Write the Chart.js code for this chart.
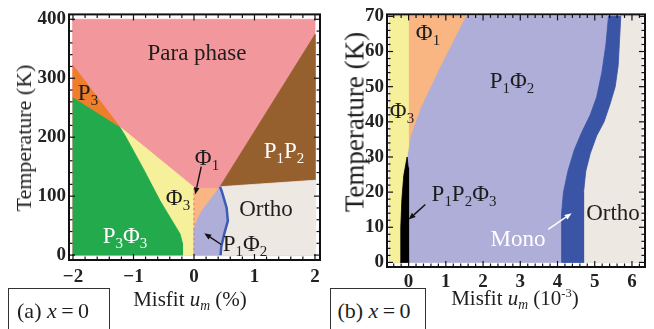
<!DOCTYPE html>
<html>
<head>
<meta charset="utf-8">
<script src="https://cdn.jsdelivr.net/npm/chart.js@4.4.0/dist/chart.umd.min.js"></script>
<style>
  html, body { margin: 0; padding: 0; background: #fff; }
  #wrap { position: relative; width: 654px; height: 329px; overflow: hidden;
          font-family: "Liberation Serif", "Times New Roman", serif; color: #1e1e1e; }
  canvas { position: absolute; top: 0; }
  .lb { position: absolute; transform: translate(-50%, -50%); white-space: nowrap; line-height: 1; }
  .lb sub { font-size: 0.65em; vertical-align: -0.35em; line-height: 0; }
  .lb sup { font-size: 0.6em; vertical-align: 0.6em; line-height: 0; }
  .rot { transform: translate(-50%, -50%) rotate(-90deg); }
  .w { color: #fff; }
  .box { position: absolute; border: 1.5px solid #333; background: #fff; }
</style>
</head>
<body>
<div id="wrap">
  <canvas id="chartA" width="330" height="290" style="left:0"></canvas>
  <canvas id="chartB" width="324" height="290" style="left:330px"></canvas>

  <!-- panel (a) labels -->
  <div class="lb" style="left:197px;top:52px;font-size:23px">Para phase</div>
  <div class="lb" style="left:88px;top:92px;font-size:23px">P<sub>3</sub></div>
  <div class="lb w" style="left:284px;top:150px;font-size:23px">P<sub>1</sub>P<sub>2</sub></div>
  <div class="lb" style="left:207px;top:157px;font-size:23px">Φ<sub>1</sub></div>
  <div class="lb" style="left:178px;top:197px;font-size:23px">Φ<sub>3</sub></div>
  <div class="lb" style="left:266px;top:208px;font-size:23px">Ortho</div>
  <div class="lb w" style="left:125px;top:235px;font-size:23px">P<sub>3</sub>Φ<sub>3</sub></div>
  <div class="lb" style="left:245px;top:243px;font-size:23px">P<sub>1</sub>Φ<sub>2</sub></div>
  <div class="lb rot" style="left:24px;top:138px;font-size:22px">Temperature (K)</div>
  <div class="lb" style="left:190px;top:299px;font-size:21px">Misfit <i>u<sub>m</sub></i> (%)</div>
  <div class="box" style="left:8px;top:288px;width:100px;height:60px"></div>
  <div class="lb" style="left:53px;top:311px;font-size:22px">(a) <i>x</i>&#8201;=&#8201;0</div>

  <!-- panel (b) labels -->
  <div class="lb" style="left:428px;top:32px;font-size:23px">Φ<sub>1</sub></div>
  <div class="lb" style="left:512px;top:80px;font-size:23px">P<sub>1</sub>Φ<sub>2</sub></div>
  <div class="lb" style="left:402px;top:110px;font-size:23px">Φ<sub>3</sub></div>
  <div class="lb" style="left:464px;top:193px;font-size:23px">P<sub>1</sub>P<sub>2</sub>Φ<sub>3</sub></div>
  <div class="lb" style="left:613px;top:212px;font-size:23px">Ortho</div>
  <div class="lb w" style="left:518px;top:238px;font-size:23px">Mono</div>
  <div class="lb rot" style="left:355px;top:122px;font-size:27px">Temperature (K)</div>
  <div class="lb" style="left:515px;top:298px;font-size:21px">Misfit <i>u<sub>m</sub></i> (10<sup>-3</sup>)</div>
  <div class="box" style="left:330px;top:288px;width:94px;height:60px"></div>
  <div class="lb" style="left:374px;top:311px;font-size:22px">(b) <i>x</i>&#8201;=&#8201;0</div>
</div>

<script>
// ---- panel (a): misfit (%) vs T (K)
const xTicksA = [-2, -1, 0, 1, 2];
const xTickLabelsA = ['\u22122', '\u22121', '0', '1', '2'];
const yTicksA = [0, 100, 200, 300, 400];
const yTickLabelsA = ['0', '100', '200', '300', '400'];

const paraA = [[-2, 0], [2, 0], [2, 400], [-2, 400]];
const p1p2A = [[0.43, 116], [2, 374], [2, 127]];
const orthoA = [[0.43, 116], [2, 127], [2, 0], [0.3, 0]];
const phi3A = [[-1.23, 218], [0, 115], [0, 0], [-1.2, 0]];
const phi1A = [[0, 113], [0.43, 113], [0.43, 116], [0.45, 0], [0, 0]];
const phi1EdgeA = [[0, 45], [0.05, 58], [0.1, 70], [0.2, 85], [0.3, 98], [0.43, 116]];
const monoA = [[0.43, 116], [0.46, 108], [0.54, 80], [0.56, 58], [0.5, 36], [0.45, 14], [0.44, 0]];
const p3phi3A = [[-2, 268], [-1.23, 218], [-1.14, 203], [-0.84, 147], [-0.56, 92], [-0.23, 36], [-0.19, 20], [-0.19, 0], [-2, 0]];
const p3A = [[-2, 322], [-1.23, 218], [-2, 268]];
const zeroLineA = [[0, 0], [0, 115]];
const arrowsA = [
  { from: [0.12, 150], to: [0.02, 103], color: '#111' },
  { from: [0.45, 18], to: [0.17, 37], color: '#111' }
];

// ---- panel (b): misfit (1e-3) vs T (K)
const xTicksB = [0, 1, 2, 3, 4, 5, 6];
const xTickLabelsB = ['0', '1', '2', '3', '4', '5', '6'];
const yTicksB = [0, 10, 20, 30, 40, 50, 60, 70];
const yTickLabelsB = ['0', '10', '20', '30', '40', '50', '60', '70'];

const p1phi2B = [[-0.5, 0], [6.26, 0], [6.26, 70], [-0.5, 70]];
const monoLeftB = [[4.11, 0], [4.11, 14], [4.16, 20], [4.28, 26], [4.45, 32], [4.65, 37], [4.88, 42], [5.05, 47], [5.19, 54], [5.30, 62], [5.37, 70]];
const monoRightB = [[4.70, 0], [4.70, 20], [4.76, 26], [4.88, 31], [5.05, 36], [5.25, 40], [5.41, 45], [5.55, 50], [5.63, 56], [5.70, 70]];
const phi1B = [[0, 33], [0.05, 36], [0.32, 44], [0.86, 56], [1.53, 70], [0, 70]];
const phi3B = [[-0.5, 0], [-0.22, 0], [-0.21, 10], [-0.18, 18], [-0.13, 24.7], [-0.04, 30], [0, 33], [0, 70], [-0.5, 70]];
const p1p2phi3B = [[-0.22, 0], [-0.21, 10], [-0.18, 18], [-0.13, 24.7], [-0.04, 30], [-0.01, 27], [0, 0]];
const arrowsB = [
  { from: [0.45, 16.5], to: [0.0, 12.2], color: '#111' },
  { from: [3.75, 9.4], to: [4.38, 14.0], color: '#fff' }
];

const toXY = pts => pts.map(([x, y]) => ({ x, y }));

function region(label, pts, color) {
  return {
    label, data: toXY(pts.concat([pts[0]])),
    backgroundColor: color, borderColor: color, borderWidth: 0.8,
    pointRadius: 0, fill: 'shape', tension: 0
  };
}

function curve(label, pts, color, width, dash) {
  return {
    label, data: toXY(pts), borderColor: color, borderWidth: width,
    borderDash: dash || [], pointRadius: 0, fill: false, tension: 0
  };
}

// inward ticks on all four sides + black frame
const frameTicks = {
  id: 'frameTicks',
  afterDraw(chart, args, o) {
    const { ctx, chartArea: a, scales: { x, y } } = chart;
    ctx.save();
    ctx.strokeStyle = '#111';
    ctx.lineWidth = 1.2;
    const isMajor = (v, step) => Math.abs(v / step - Math.round(v / step)) < 1e-6;
    const seg = (x1, y1, x2, y2) => { ctx.beginPath(); ctx.moveTo(x1, y1); ctx.lineTo(x2, y2); ctx.stroke(); };
    const nx = Math.round((o.xTo - o.xFrom) / o.xMinor);
    for (let i = 0; i <= nx; i++) {
      const v = o.xFrom + i * o.xMinor;
      const px = x.getPixelForValue(v);
      const L = isMajor(v, o.xMajor) ? 6 : 3.5;
      seg(px, a.bottom, px, a.bottom - L);
      seg(px, a.top, px, a.top + L);
    }
    const ny = Math.round((o.yTo - o.yFrom) / o.yMinor);
    for (let i = 0; i <= ny; i++) {
      const v = o.yFrom + i * o.yMinor;
      const py = y.getPixelForValue(v);
      const L = isMajor(v, o.yMajor) ? 6 : 3.5;
      seg(a.left, py, a.left + L, py);
      seg(a.right, py, a.right - L, py);
    }
    ctx.lineWidth = 2;
    ctx.strokeRect(a.left, a.top, a.right - a.left, a.bottom - a.top);
    ctx.restore();
  }
};

const arrowPlugin = {
  id: 'arrows',
  afterDatasetsDraw(chart, args, o) {
    const { ctx, scales: { x, y } } = chart;
    ctx.save();
    for (const ar of o.list) {
      const x1 = x.getPixelForValue(ar.from[0]), y1 = y.getPixelForValue(ar.from[1]);
      const x2 = x.getPixelForValue(ar.to[0]), y2 = y.getPixelForValue(ar.to[1]);
      const ang = Math.atan2(y2 - y1, x2 - x1);
      const h = 7, w = 2.8;
      ctx.strokeStyle = ar.color; ctx.fillStyle = ar.color; ctx.lineWidth = 1.4;
      ctx.beginPath();
      ctx.moveTo(x1, y1);
      ctx.lineTo(x2 - h * Math.cos(ang), y2 - h * Math.sin(ang));
      ctx.stroke();
      ctx.beginPath();
      ctx.moveTo(x2, y2);
      ctx.lineTo(x2 - h * Math.cos(ang) + w * Math.sin(ang), y2 - h * Math.sin(ang) - w * Math.cos(ang));
      ctx.lineTo(x2 - h * Math.cos(ang) - w * Math.sin(ang), y2 - h * Math.sin(ang) + w * Math.cos(ang));
      ctx.closePath();
      ctx.fill();
    }
    ctx.restore();
  }
};

const tickFont = { family: '"Liberation Serif", serif', size: 19, weight: 'bold' };

function makeChart(id, cfg) {
  const layers = cfg.layers; // listed bottom to top
  layers.forEach((d, i) => { d.order = layers.length - i; });
  return new Chart(document.getElementById(id), {
    type: 'line',
    data: { datasets: layers },
    options: {
      responsive: false,
      animation: false,
      events: [],
      layout: { padding: cfg.pad },
      plugins: {
        legend: { display: false },
        tooltip: { enabled: false },
        frameTicks: cfg.frame,
        arrows: { list: cfg.arrows }
      },
      scales: {
        x: {
          type: 'linear', min: cfg.xMin, max: cfg.xMax,
          grid: { display: false, drawTicks: false }, border: { display: false },
          afterBuildTicks: s => { s.ticks = cfg.xTicks.map(v => ({ value: v })); },
          afterFit: s => { s.height = cfg.xH; },
          ticks: { callback: (v, i) => cfg.xLabels[i], font: tickFont, color: '#222',
                   padding: cfg.xPad, autoSkip: false, maxRotation: 0 }
        },
        y: {
          type: 'linear', min: cfg.yMin, max: cfg.yMax,
          grid: { display: false, drawTicks: false }, border: { display: false },
          afterBuildTicks: s => { s.ticks = cfg.yTicks.map(v => ({ value: v })); },
          afterFit: s => { s.width = cfg.yW; },
          ticks: { callback: (v, i) => cfg.yLabels[i], font: tickFont, color: '#222',
                   padding: cfg.yPad, autoSkip: false }
        }
      }
    },
    plugins: [frameTicks, arrowPlugin]
  });
}

makeChart('chartA', {
  layers: [
    region('Para phase', paraA, '#F2979C'),
    region('P1P2', p1p2A, '#96602E'),
    region('Ortho', orthoA, '#EEE8E3'),
    region('Phi3', phi3A, '#F6F09B'),
    region('Phi1', phi1A, '#F9B582'),
    region('P1Phi2', phi1EdgeA.concat(monoA.slice(1), [[0, 0]]), '#AFAED8'),
    region('P3Phi3', p3phi3A, '#22AA4C'),
    region('P3', p3A, '#EF7E2B'),
    curve('Mono', monoA, '#3D5BB5', 2.5),
    curve('u=0', zeroLineA, '#E0707E', 1, [2, 3])
  ],
  arrows: arrowsA,
  pad: { top: 10, right: 10, left: 0, bottom: 0 },
  xMin: -2.066, xMax: 2.083, yMin: -8.3, yMax: 408.3,
  xTicks: xTicksA, xLabels: xTickLabelsA, yTicks: yTicksA, yLabels: yTickLabelsA,
  xH: 30, yW: 69, xPad: 6, yPad: 3,
  frame: { xFrom: -2, xTo: 2, xMinor: 0.2, xMajor: 1, yFrom: 0, yTo: 400, yMinor: 20, yMajor: 100 }
});

makeChart('chartB', {
  layers: [
    region('P1Phi2', p1phi2B, '#AFAED8'),
    region('Ortho', monoRightB.concat([[6.26, 70], [6.26, 0]]), '#EEE8E3'),
    region('Mono', monoLeftB.concat(monoRightB.slice().reverse()), '#3A54A6'),
    region('Phi1', phi1B, '#F9B582'),
    region('Phi3', phi3B, '#F6F09B'),
    region('P1P2Phi3', p1p2phi3B, '#000000')
  ],
  arrows: arrowsB,
  pad: { top: 9, right: 9, left: 0, bottom: 0 },
  xMin: -0.58, xMax: 6.35, yMin: -1.3, yMax: 70.56,
  xTicks: xTicksB, xLabels: xTickLabelsB, yTicks: yTicksB, yLabels: yTickLabelsB,
  xH: 23, yW: 57, xPad: 4, yPad: 3,
  frame: { xFrom: -0.4, xTo: 6.2, xMinor: 0.2, xMajor: 1, yFrom: 0, yTo: 70, yMinor: 2, yMajor: 10 }
});
</script>
</body>
</html>
